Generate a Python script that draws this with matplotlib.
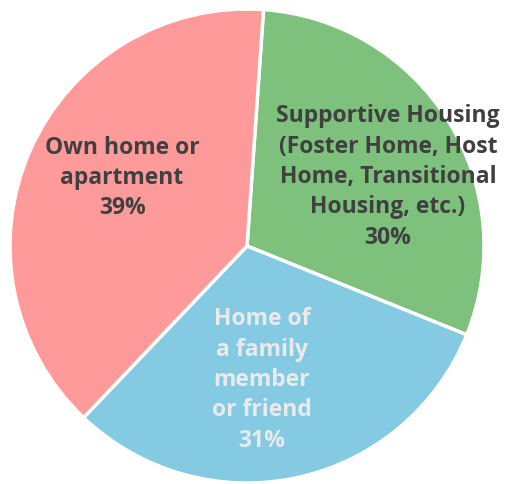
import numpy as np
import matplotlib.pyplot as plt

# Where youth are living
labels = ['Supportive Housing\n(Foster Home, Host\nHome, Transitional\nHousing, etc.)',
          'Home of\na family\nmember\nor friend',
          'Own home or\napartment']
values = [30, 31, 39]
colors = ['#7DC17D', '#83CAE2', '#FF9A9A']
text_colors = ['#404040', '#EAEAEA', '#404040']
label_pos = [(0.595, 0.295), (0.063, -0.561), (-0.527, 0.291)]

fig = plt.figure(figsize=(5.06, 4.85), dpi=100)
ax = fig.add_axes([10 / 506, 1 / 485, 474 / 506, 474 / 485])

ax.pie(values, colors=colors, startangle=86, counterclock=False, radius=1,
       wedgeprops=dict(edgecolor='white', linewidth=2.5))

for lab, v, (x, y), c in zip(labels, values, label_pos, text_colors):
    ax.text(x, y, lab + '\n' + str(v) + '%', ha='center', va='center',
            fontsize=16.5, fontweight='bold', color=c, linespacing=1.35,
            family='Open Sans')

ax.set_xlim(-1, 1)
ax.set_ylim(-1, 1)
ax.set_aspect('equal')
ax.axis('off')

fig.savefig('out.png', dpi=100)
